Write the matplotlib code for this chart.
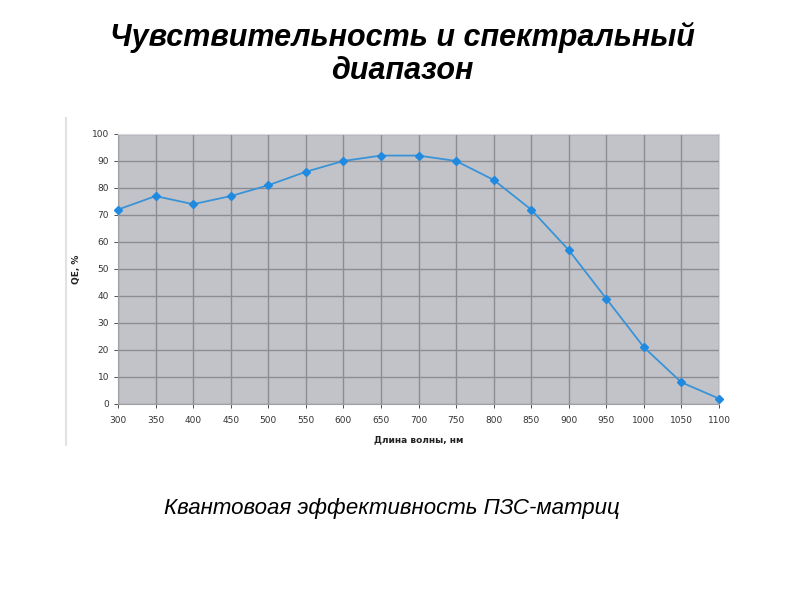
import matplotlib.pyplot as plt
from matplotlib.lines import Line2D

wavelength = [300, 350, 400, 450, 500, 550, 600, 650, 700, 750, 800, 850, 900, 950, 1000, 1050, 1100]
qe = [72, 77, 74, 77, 81, 86, 90, 92, 92, 90, 83, 72, 57, 39, 21, 8, 2]
y_ticks = list(range(0, 101, 10))

fig = plt.figure(figsize=(8, 6), dpi=100)
fig.patch.set_facecolor("white")

fig.text(0.5025, 0.91, "Чувствительность и спектральный\nдиапазон",
         ha="center", va="center", fontsize=22, fontweight="bold", style="italic",
         family="Liberation Sans", linespacing=1.15)

ax = fig.add_axes([0.1475, 0.3267, 0.75125, 0.45])
ax.set_facecolor("#c1c3c9")
ax.plot(wavelength, qe, color="#3a93d6", lw=1.3, marker="D", markersize=4,
        markerfacecolor="#1f8ae0", markeredgecolor="#1f8ae0", zorder=3, clip_on=False)
ax.set_xlim(300, 1100)
ax.set_ylim(0, 100)
ax.set_xticks(wavelength)
ax.set_yticks(y_ticks)
ax.grid(True, color="#8c8d92", lw=1.0)
ax.set_axisbelow(True)
for side in ["top", "right"]:
    ax.spines[side].set_color("#d8d9dc")
for side in ["left", "bottom"]:
    ax.spines[side].set_color("#a0a1a5")
ax.tick_params(labelsize=6.5, colors="#333333", length=3, width=0.6)
ax.tick_params(axis="x", pad=6)
ax.set_xlabel("Длина волны, нм", fontsize=6.5, fontweight="bold", color="#222222", labelpad=7)
ax.set_ylabel("QE, %", fontsize=6.5, fontweight="bold", color="#222222", labelpad=8)

fig.add_artist(Line2D([66 / 800, 66 / 800], [1 - 118 / 600, 1 - 445 / 600],
                      color="#e2e2e2", lw=1.5))

fig.text(0.49, 0.152, "Квантовоая эффективность ПЗС-матриц",
         ha="center", va="center", fontsize=16, style="italic", family="Liberation Sans")

fig.savefig("out.png", dpi=100)
